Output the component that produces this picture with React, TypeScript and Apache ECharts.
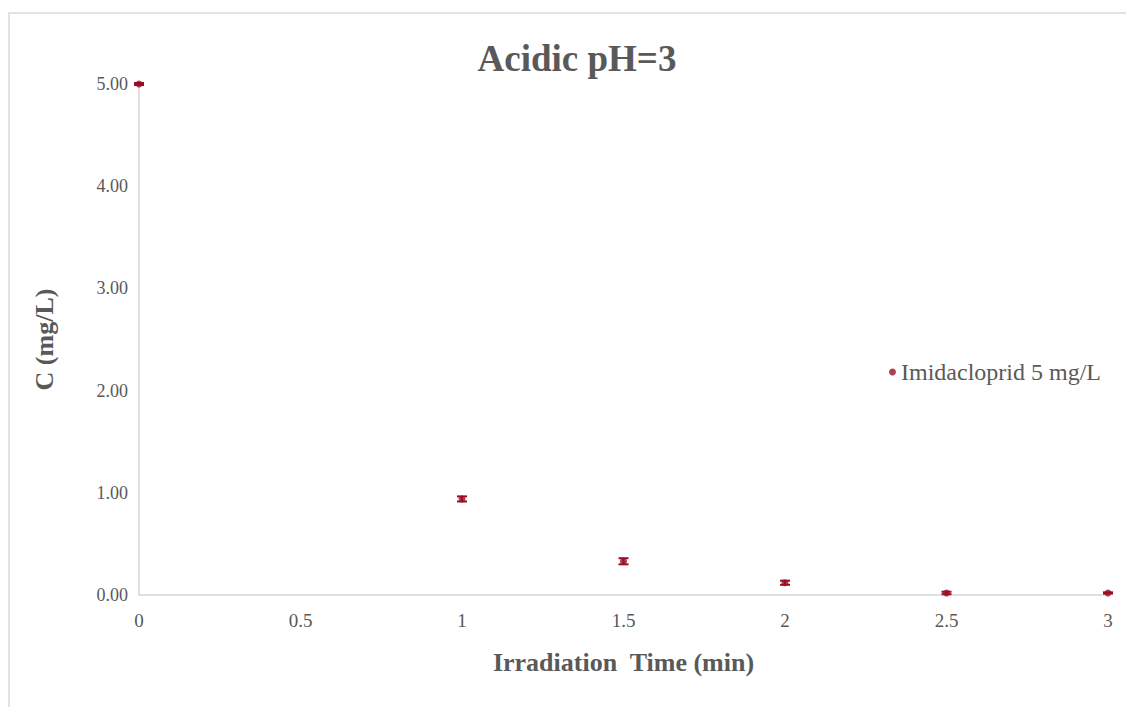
import React, { useEffect, useRef } from "react";
import * as echarts from "echarts";

// Irradiation time (min) and measured concentration (mg/L)
const times = [0, 1, 1.5, 2, 2.5, 3];
const concentrations = [5.0, 0.94, 0.33, 0.12, 0.02, 0.02];
const errors = [0.01, 0.025, 0.03, 0.02, 0.012, 0.006];
const xTicks = [0, 0.5, 1, 1.5, 2, 2.5, 3];
const seriesName = "Imidacloprid 5 mg/L";

const SERIF = "'Liberation Serif', 'Times New Roman', serif";
const TEXT = "#595959";
const MARK = "#9b0f22";

export default function App() {
  const ref = useRef<HTMLDivElement>(null);

  useEffect(() => {
    if (!ref.current) return;
    const chart = echarts.init(ref.current, undefined, { renderer: "svg" });

    const points = times.map((t, i) => [t, concentrations[i]]);
    const bars = times.map((t, i) => [t, concentrations[i], errors[i]]);

    chart.setOption({
      animation: false,
      backgroundColor: "#ffffff",
      textStyle: { fontFamily: SERIF },
      title: {
        text: "Acidic pH=3",
        left: 572,
        textAlign: "center",
        top: 35,
        textStyle: { fontFamily: SERIF, fontSize: 37, fontWeight: "bold", color: TEXT },
      },
      graphic: [
        {
          type: "rect",
          shape: { x: 9, y: 13, width: 1300, height: 900 },
          style: { fill: "none", stroke: "#d9d9d9", lineWidth: 1.5 },
          silent: true,
        },
      ],
      legend: {
        data: [seriesName],
        left: 884,
        top: 355,
        icon: "circle",
        itemWidth: 7,
        itemHeight: 7,
        itemGap: 4,
        textStyle: { fontFamily: SERIF, fontSize: 24, color: TEXT },
      },
      grid: { left: 139, right: 18, top: 84, bottom: 112 },
      xAxis: {
        type: "value",
        min: 0,
        max: 3,
        interval: 0.5,
        name: "Irradiation  Time (min)",
        nameLocation: "middle",
        nameGap: 54,
        nameTextStyle: { fontFamily: SERIF, fontSize: 26, fontWeight: "bold", color: TEXT },
        axisLine: { show: true, lineStyle: { color: "#d6d6d6", width: 1.5 } },
        axisTick: { show: false },
        splitLine: { show: false },
        axisLabel: {
          fontFamily: SERIF,
          fontSize: 19,
          color: TEXT,
          margin: 16,
          customValues: xTicks,
          formatter: (v: number) => String(v),
        },
      },
      yAxis: {
        type: "value",
        min: 0,
        max: 5,
        interval: 1,
        name: "C (mg/L)",
        nameLocation: "middle",
        nameGap: 82,
        nameTextStyle: { fontFamily: SERIF, fontSize: 26, fontWeight: "bold", color: TEXT },
        axisLine: { show: true, lineStyle: { color: "#d6d6d6", width: 1.5 } },
        axisTick: { show: false },
        splitLine: { show: false },
        axisLabel: {
          fontFamily: SERIF,
          fontSize: 18,
          color: TEXT,
          margin: 11,
          formatter: (v: number) => v.toFixed(2),
        },
      },
      series: [
        {
          name: seriesName,
          type: "scatter",
          data: points,
          symbol: "circle",
          symbolSize: 7,
          itemStyle: { color: MARK },
          z: 3,
        },
        {
          name: "error",
          type: "custom",
          data: bars,
          z: 4,
          renderItem: (params: any, api: any) => {
            const x = api.value(0);
            const y = api.value(1);
            const e = api.value(2);
            const top = api.coord([x, y + e]);
            const bot = api.coord([x, y - e]);
            const hw = 5;
            const style = { stroke: MARK, lineWidth: 2 };
            return {
              type: "group",
              children: [
                { type: "line", shape: { x1: top[0], y1: top[1], x2: bot[0], y2: bot[1] }, style },
                { type: "line", shape: { x1: top[0] - hw, y1: top[1], x2: top[0] + hw, y2: top[1] }, style },
                { type: "line", shape: { x1: bot[0] - hw, y1: bot[1], x2: bot[0] + hw, y2: bot[1] }, style },
              ],
            };
          },
        },
      ],
    });

    return () => chart.dispose();
  }, []);

  return (
    <div
      ref={ref}
      style={{ position: "fixed", left: 0, top: 0, width: 1126, height: 707 }}
    />
  );
}
